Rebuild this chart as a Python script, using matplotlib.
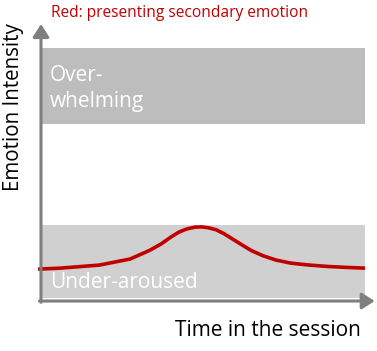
import matplotlib
matplotlib.use("Agg")
import matplotlib.pyplot as plt

# time in the session (0..10) and emotion intensity
time = [-0.09, 0.6, 1.8, 2.75, 3.35, 3.7, 4.0, 4.25, 4.5, 4.75, 4.95, 5.15, 5.4,
        5.65, 5.9, 6.2, 6.5, 6.85, 7.25, 7.7, 8.2, 8.8, 9.4, 10.0]
intensity = [1.26, 1.30, 1.42, 1.66, 2.00, 2.25, 2.52, 2.72, 2.85, 2.92, 2.93, 2.90, 2.82,
             2.66, 2.46, 2.22, 1.99, 1.79, 1.62, 1.50, 1.43, 1.37, 1.33, 1.30]

zones = ["Over-\nwhelming", "Under-aroused"]
zone_low = [7.0, 0.1]
zone_high = [10.0, 3.0]
zone_colors = ["#bdbdbd", "#d0d0d0"]

plt.rcParams["font.family"] = ["Open Sans", "DejaVu Sans"]

fig = plt.figure(figsize=(3.77, 3.51), dpi=100)
ax = fig.add_axes([0, 0, 1, 1])
ax.set_xlim(-1.265, 10.37)
ax.set_ylim(-1.976, 11.9)
ax.axis("off")

for lo, hi, c in zip(zone_low, zone_high, zone_colors):
    ax.fill_between([0.04, 10.0], lo, hi, color=c, lw=0, zorder=1)

ax.plot(time, intensity, color="#c00000", lw=2.6, zorder=2, solid_capstyle="butt")

grey = "#7f7f7f"
arrow = dict(arrowstyle="-|>,head_length=0.55,head_width=0.35", color=grey, lw=2.2,
             mutation_scale=14, shrinkA=0, shrinkB=0)
ax.annotate("", xy=(0, 10.95), xytext=(0, -0.05), arrowprops=arrow, zorder=3)
ax.annotate("", xy=(10.3, 0), xytext=(-0.05, 0), arrowprops=arrow, zorder=3)

# baseline of the last line of a multi-line text
ax.text(0.28, 7.67, zones[0], color="white", fontsize=15, va="baseline", ha="left",
        linespacing=1.3, zorder=4)
ax.text(0.28, 0.51, zones[1], color="white", fontsize=15, va="baseline", ha="left", zorder=4)

ax.text(0.31, 11.38, "Red: presenting secondary emotion", color="#c00000", fontsize=11.2,
        va="center", ha="left")
ax.text(-0.86, 7.67, "Emotion Intensity", rotation=90, fontsize=14.8, va="center", ha="center")
ax.text(9.88, -1.15, "Time in the session", fontsize=15, va="center", ha="right")

fig.savefig("out.png", dpi=100)
